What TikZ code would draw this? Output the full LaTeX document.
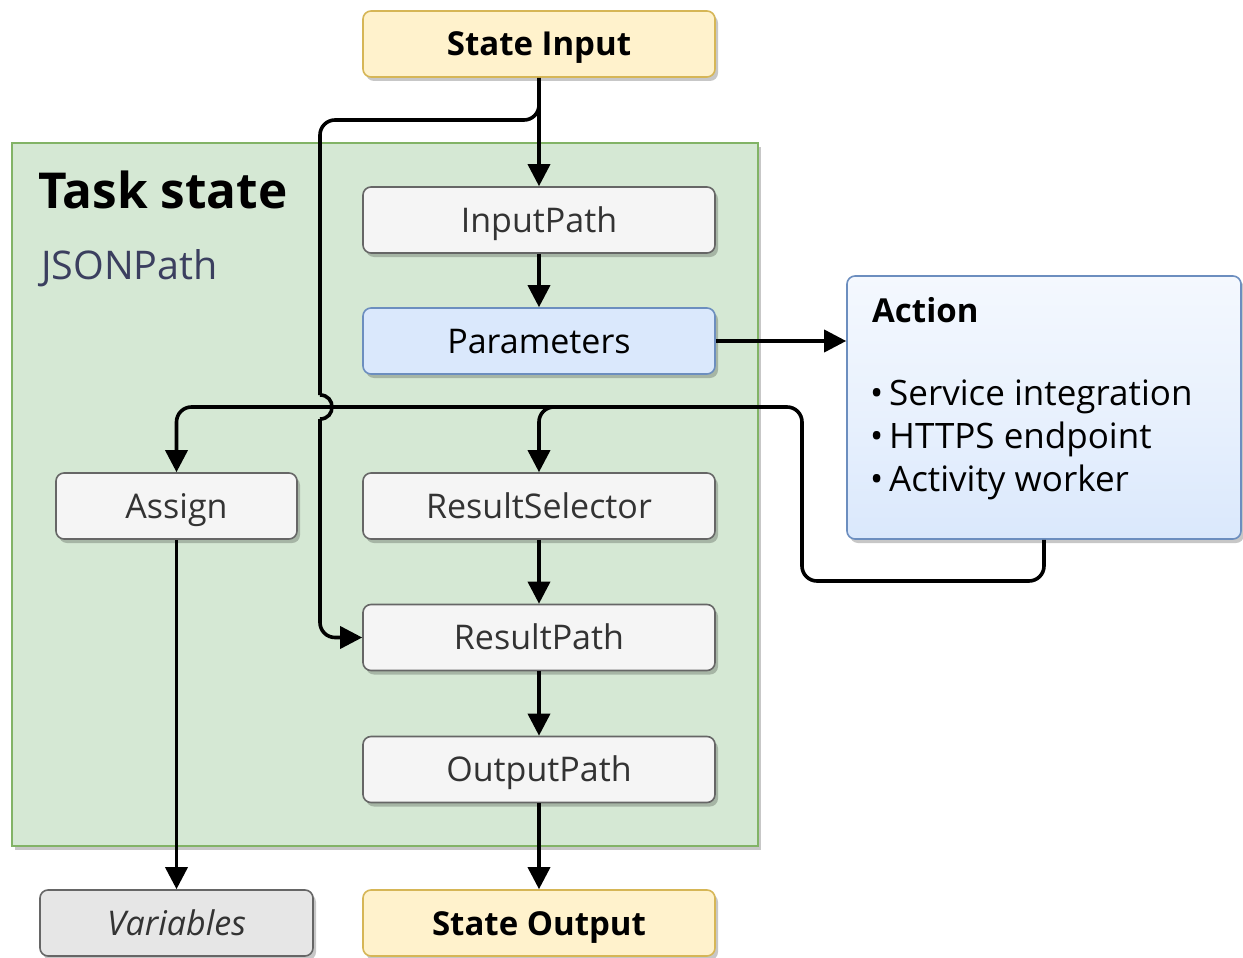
\documentclass[tikz,border=0pt]{standalone}
\usepackage{fontspec}
\setmainfont{Open Sans}
\usetikzlibrary{arrows.meta,shadows}
\definecolor{ioFill}{HTML}{FFF2CC}
\definecolor{ioLine}{HTML}{D6B656}
\definecolor{grFill}{HTML}{D5E8D4}
\definecolor{grLine}{HTML}{82B366}
\definecolor{stFill}{HTML}{F5F5F5}
\definecolor{stLine}{HTML}{666666}
\definecolor{stText}{HTML}{333333}
\definecolor{blFill}{HTML}{DAE8FC}
\definecolor{blLine}{HTML}{6C8EBF}
\definecolor{blTop}{HTML}{F4F8FE}
\definecolor{varFill}{HTML}{E6E6E6}
\definecolor{jsonText}{HTML}{3B3F5F}
\tikzset{
  shad/.style={drop shadow={shadow xshift=3pt, shadow yshift=-4pt, opacity=0.22, fill=black}},
  box/.style={draw, rounded corners=8pt, line width=1.6pt, minimum width=352pt, minimum height=66pt, inner sep=0pt, shad, text height=24pt, text depth=0pt, font=\fontsize{34}{40}\selectfont},
  stepbox/.style={box, fill=stFill, draw=stLine, text=stText},
  iobox/.style={box, fill=ioFill, draw=ioLine, font=\fontsize{33}{40}\selectfont\bfseries},
  conn/.style={line width=3.6pt, rounded corners=15pt},
  arr/.style={conn, -{Triangle[length=22pt, width=22pt]}},
  bullet/.style={anchor=base west, font=\fontsize{35}{42}\selectfont},
}
\begin{document}
\begin{tikzpicture}[x=1pt, y=-1pt]
\useasboundingbox (0,0) rectangle (1243,958);
% container
\node[draw=grLine, fill=grFill, line width=1.6pt, minimum width=746pt, minimum height=703pt, inner sep=0pt, shad] (TS) at (385,494.5) {};
\node[anchor=base west, inner sep=0pt, font=\fontsize{49.5}{58}\selectfont\bfseries] (TSL) at (38,208) {Task state};
\node[anchor=base west, inner sep=0pt, text=jsonText, font=\fontsize{39.5}{46}\selectfont] (JP) at (41,279) {JSONPath};
% nodes
\node[iobox] (SI) at (539,44) {State Input};
\node[stepbox] (IP) at (539,220) {InputPath};
\node[box, fill=blFill, draw=blLine] (PA) at (539,341) {Parameters};
\node[stepbox, minimum width=241pt] (AS) at (176.5,506) {Assign};
\node[stepbox] (RS) at (539,506) {ResultSelector};
\node[stepbox] (RP) at (539,637.5) {ResultPath};
\node[stepbox] (OP) at (539,769.5) {OutputPath};
\node[stepbox, fill=varFill, minimum width=273pt, font=\fontsize{34}{40}\selectfont\itshape] (VA) at (176.5,923) {Variables};
\node[iobox] (SO) at (539,923) {State Output};
% action
\node[draw=blLine, line width=1.6pt, rounded corners=8pt, top color=blTop, bottom color=blFill, middle color=blFill!60!white, minimum width=394pt, minimum height=263pt, inner sep=0pt, shad] (AC) at (1044,407.5) {};
\node[anchor=base west, inner sep=0pt, font=\fontsize{33}{40}\selectfont\bfseries] (ACT) at (872,322) {Action};
\node[bullet, inner sep=0pt] (B1) at (870,405) {\textbullet\,Service integration};
\node[bullet, inner sep=0pt] (B2) at (870,448) {\textbullet\,HTTPS endpoint};
\node[bullet, inner sep=0pt] (B3) at (870,491) {\textbullet\,Activity worker};
% connectors
\draw[arr] (SI.south) -- (IP.north);
\draw[conn] (SI.south) -- (539,120) -- (320,120) -- (320,395);
\draw[line width=3.6pt] (320,395) .. controls (336,395) and (336,419) .. (320,419);
\draw[arr] (320,419) -- (320,637.5) -- (RP.west);
\draw[arr] (IP.south) -- (PA.north);
\draw[arr] (PA.east) -- (PA.east -| AC.west);
\draw[arr] (AC.south) -- (1044,581) -- (802,581) -- (802,407) -- (176.5,407) -- (AS.north);
\draw[arr] (580,407) -- (539,407) -- (RS.north);
\draw[arr] (RS.south) -- (RP.north);
\draw[arr] (RP.south) -- (OP.north);
\draw[arr] (OP.south) -- (SO.north);
\draw[arr] (AS.south) -- (VA.north);
\end{tikzpicture}
\end{document}
